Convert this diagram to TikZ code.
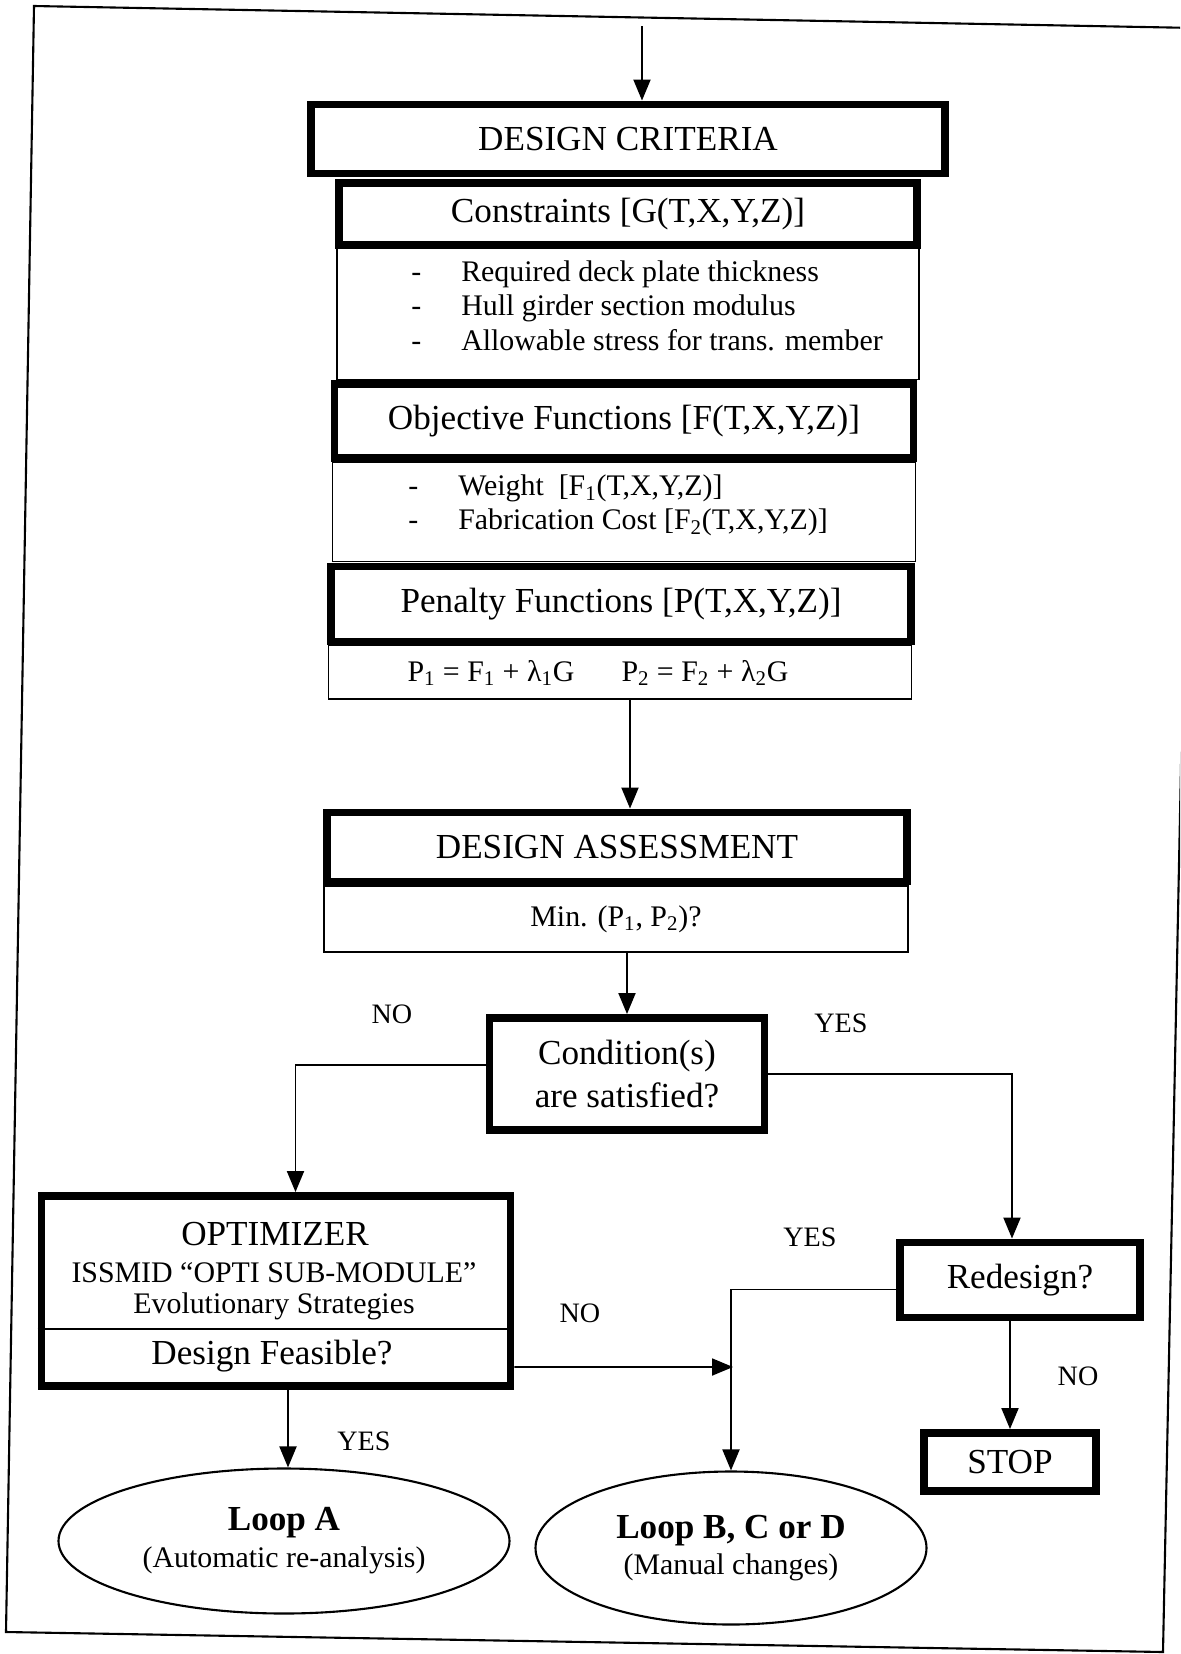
\documentclass[tikz,border=0pt]{standalone}
\usepackage{fontspec}
\setmainfont{Liberation Serif}
\usetikzlibrary{arrows.meta,shapes.geometric,positioning}

\begin{document}
\begin{tikzpicture}[x=0.2mm,y=-0.2mm,
  heavybox/.style={draw,line width=4.5pt,inner sep=0pt,align=center,font=\fontsize{20}{24}\selectfont},
  lightbox/.style={draw,line width=1.1pt,inner sep=0pt,align=center,font=\fontsize{17}{20}\selectfont},
  loopnode/.style={ellipse,draw,line width=1.2pt,inner sep=0pt,align=center},
  itemlist/.style={anchor=west,inner sep=0pt,align=left,font=\fontsize{17}{19.5}\selectfont},
  flow/.style={line width=1.1pt,-{Triangle[length=4.2mm,width=3.4mm]}},
  answer/.style={font=\fontsize{16}{19}\selectfont}]
  \def\bigf{\fontsize{20}{24}\selectfont}
  \def\smallf{\fontsize{17}{20}\selectfont}

  % page and outer frame
  \useasboundingbox (0,0) rectangle (1180,1654);
  \clip (0,0) rectangle (1180,1654);
  \draw[line width=1.2pt] (34,6) -- (1196,28) -- (1163,1652) -- (6,1632) -- cycle;

  % thin boxes first (thick ones go over them)
  \node[lightbox,minimum width=116.4mm,minimum height=26.2mm] (conslist) at (628,314) {};
  \node[lightbox,minimum width=116.6mm,minimum height=19.8mm] (objlist) at (624,512) {};
  \node[lightbox,minimum width=116.6mm,minimum height=10.8mm] (penform) at (620,672) {};
  \node[lightbox,minimum width=116.8mm,minimum height=13.2mm] (minbox) at (616,919) {Min. (P\textsubscript{1}, P\textsubscript{2})?};

  % design criteria stack
  \node[heavybox,minimum width=126.8mm,minimum height=13.8mm] (crit) at (628,139) {DESIGN CRITERIA};
  \node[heavybox,minimum width=115.6mm,minimum height=12.4mm] (cons) at (628,214) {Constraints [G(T,X,Y,Z)]};
  \node[heavybox,minimum width=115.8mm,minimum height=14.8mm] (obj) at (624,421) {Objective Functions [F(T,X,Y,Z)]};
  \node[heavybox,minimum width=116mm,minimum height=15mm] (pen) at (621,604) {Penalty Functions [P(T,X,Y,Z)]};

  \node[itemlist] (consitems) at (411,309) {\begin{tabular}{@{}l@{\hspace{8mm}}l@{}}
    - & Required deck plate thickness\\
    - & Hull girder section modulus\\
    - & Allowable stress for trans. member
  \end{tabular}};
  \node[itemlist] (objitems) at (408,506) {\begin{tabular}{@{}l@{\hspace{8mm}}l@{}}
    - & Weight\ \ [F\textsubscript{1}(T,X,Y,Z)]\\
    - & Fabrication Cost [F\textsubscript{2}(T,X,Y,Z)]
  \end{tabular}};
  \node[font=\smallf] (pone) at (491,673) {P\textsubscript{1} = F\textsubscript{1} + λ\textsubscript{1}G};
  \node[font=\smallf] (ptwo) at (705,673) {P\textsubscript{2} = F\textsubscript{2} + λ\textsubscript{2}G};

  % assessment and decision
  \node[heavybox,minimum width=116mm,minimum height=13.8mm] (assess) at (617,847) {DESIGN ASSESSMENT};
  \node[heavybox,minimum width=55mm,minimum height=22.4mm] (cond) at (627,1074) {Condition(s)\\are satisfied?};

  % optimizer
  \node[heavybox,minimum width=93.8mm,minimum height=38mm] (opt) at (276,1291) {};
  \node[font=\bigf] (optname) at (275,1234) {OPTIMIZER};
  \node[font=\smallf] (optmod) at (274,1273) {ISSMID “OPTI SUB-MODULE”};
  \node[font=\smallf] (optes) at (274,1306) {Evolutionary Strategies};
  \coordinate (divy) at (0,1329);
  \draw[line width=1.1pt] (opt.west |- divy) -- (opt.east |- divy);
  \node[font=\bigf] (feas) at (272,1356) {Design Feasible?};

  % right branch
  \node[heavybox,minimum width=48mm,minimum height=15mm] (redes) at (1020,1280) {Redesign?};
  \node[heavybox,minimum width=34.4mm,minimum height=11.6mm] (stop) at (1010,1462) {STOP};

  % loops
  \node[loopnode,minimum width=90.2mm,minimum height=29mm] (loopa) at (284,1541)
    {{\bigf\bfseries Loop A}\\[4pt]{\smallf(Automatic re-analysis)}};
  \node[loopnode,minimum width=78.2mm,minimum height=30.6mm] (loopb) at (731,1548)
    {{\bigf\bfseries Loop B, C or D}\\[3pt]{\smallf(Manual changes)}};

  % connectors
  \coordinate (entry) at (642,26);
  \coordinate (merge) at (733,1367);
  \draw[flow] (entry) -- (entry |- crit.north);
  \draw[flow] ([xshift=2mm]penform.south) -- ([xshift=2mm]penform.south |- assess.north);
  \draw[flow] (cond.north |- minbox.south) -- (cond.north);
  \draw[flow] ([yshift=1.8mm]cond.west) -| ([xshift=3.9mm]opt.north);
  \draw[flow] (cond.east) -| ([xshift=-1.6mm]redes.north);
  \draw[flow] ([yshift=-15.2mm]opt.east) -- (merge);
  \draw[flow] ([yshift=-1.9mm]redes.west) -| (loopb.north);
  \draw[flow] (stop.north |- redes.south) -- (stop.north);
  \draw[flow] ([xshift=0.8mm]loopa.north |- opt.south) -- ([xshift=0.8mm]loopa.north);

  % branch labels
  \node[answer] (no1) at (392,1014) {NO};
  \node[answer] (yes1) at (841,1023) {YES};
  \node[answer] (no2) at (580,1313) {NO};
  \node[answer] (yes2) at (810,1237) {YES};
  \node[answer] (no3) at (1078,1376) {NO};
  \node[answer] (yes3) at (364,1441) {YES};
\end{tikzpicture}
\end{document}
